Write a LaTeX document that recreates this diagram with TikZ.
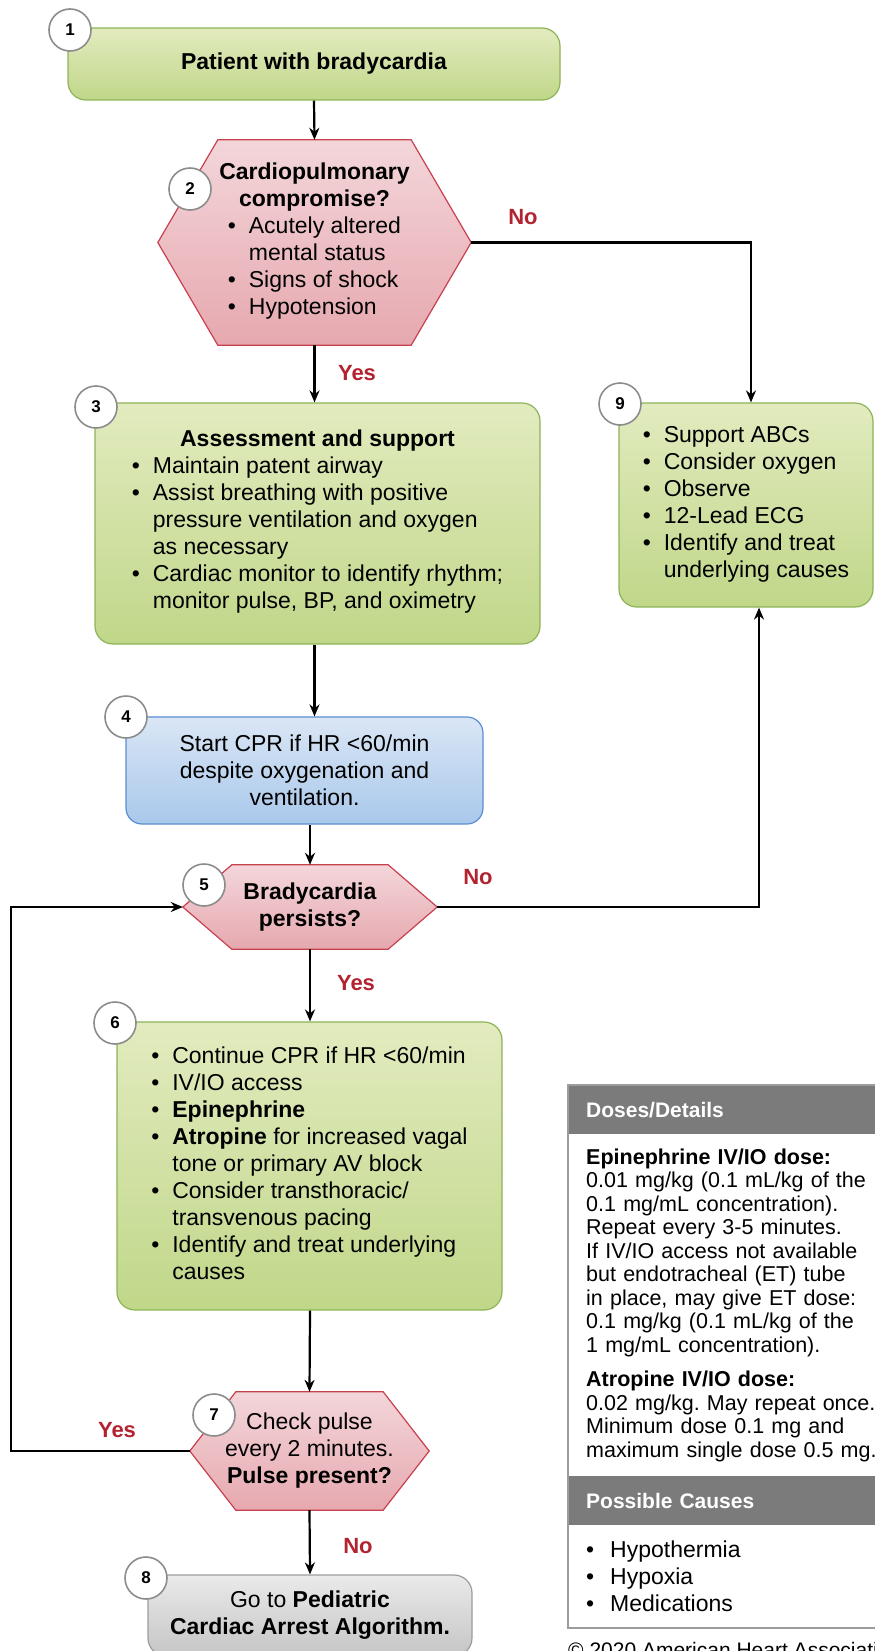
\documentclass[tikz,border=0pt]{standalone}
\usepackage{fontspec}
\setmainfont{Liberation Sans}
\usetikzlibrary{arrows.meta,backgrounds}
\frenchspacing

\definecolor{grtop}{HTML}{E2EBBF}
\definecolor{grbot}{HTML}{C0D789}
\definecolor{grline}{HTML}{8DB357}
\definecolor{rdtop}{HTML}{F3D6DA}
\definecolor{rdbot}{HTML}{E6A8AF}
\definecolor{rdline}{HTML}{C8404E}
\definecolor{bltop}{HTML}{DAE6F5}
\definecolor{blbot}{HTML}{A9C8EB}
\definecolor{blline}{HTML}{5A8ED0}
\definecolor{gytop}{HTML}{EAEAEA}
\definecolor{gybot}{HTML}{C5C5C5}
\definecolor{gyline}{HTML}{9C9C9C}
\definecolor{yesno}{HTML}{B3232F}
\definecolor{headgray}{HTML}{7B7B7B}
\definecolor{ringgray}{HTML}{8C8C8C}

\newcommand\bl{\makebox[21pt][l]{\textbullet}}
\newcommand\nb{\makebox[21pt]{}}
\newcommand\hexa[2]{\path[hexfill] (#1.west) -- ([xshift=#2]#1.north west) -- ([xshift=-#2]#1.north east) -- (#1.east) -- ([xshift=-#2]#1.south east) -- ([xshift=#2]#1.south west) -- cycle;}

\begin{document}
\begin{tikzpicture}[x=1pt, y=-1pt,
	txt/.style={align=center, inner sep=0pt, font=\fontsize{23}{27}\selectfont},
	actbox/.style={txt, rounded corners=18pt, line width=1.2pt, draw=grline, top color=grtop, bottom color=grbot},
	cprbox/.style={txt, rounded corners=16pt, line width=1.2pt, draw=blline, top color=bltop, bottom color=blbot},
	endbox/.style={txt, rounded corners=18pt, line width=1.2pt, draw=gyline, top color=gytop, bottom color=gybot},
	hextext/.style={txt},
	hexfill/.style={draw=rdline, line width=1.2pt, top color=rdtop, bottom color=rdbot},
	numc/.style={circle, draw=ringgray, line width=1.6pt, fill=white, minimum size=42pt, inner sep=0pt, font=\fontsize{17}{20}\bfseries},
	arr/.style={-{Stealth[length=12pt,width=10pt]}, line width=2.2pt},
	yn/.style={text=yesno, font=\fontsize{22}{26}\bfseries},
	sidehead/.style={anchor=north west, fill=headgray, text=white, minimum height=49pt, text width=300pt, inner xsep=18pt, inner ysep=0pt, align=left, font=\fontsize{21}{25}\bfseries},
	sidebody/.style={anchor=north west, text width=300pt, inner xsep=18pt, inner ysep=0pt, align=left}]
	\useasboundingbox (0,0) rectangle (875,1651);

	% main column
	\node[actbox, minimum width=492pt, minimum height=72pt] (b1) at (314,64) {\textbf{Patient with bradycardia}};
	\node[hextext, minimum width=313pt, minimum height=205pt] (q2) at (314.5,242.5) {\textbf{Cardiopulmonary}\\\textbf{compromise?}\\
		\begin{tabular}[t]{@{}l@{}}\bl Acutely altered\\ \nb mental status\\ \bl Signs of shock\\ \bl Hypotension\end{tabular}};
	\node[actbox, minimum width=445pt, minimum height=241pt] (b3) at (317.5,523.5) {\textbf{Assessment and support}\\
		\begin{tabular}[t]{@{}l@{}}\bl Maintain patent airway\\ \bl Assist breathing with positive\\ \nb pressure ventilation and oxygen\\ \nb as necessary\\ \bl Cardiac monitor to identify rhythm;\\ \nb monitor pulse, BP, and oximetry\end{tabular}};
	\node[cprbox, minimum width=357pt, minimum height=107pt] (b4) at (304.5,770.5) {Start CPR if HR <60/min\\despite oxygenation and\\ventilation.};
	\node[hextext, minimum width=254pt, minimum height=84pt] (q5) at (310,907) {\textbf{Bradycardia}\\\textbf{persists?}};
	\node[actbox, minimum width=385pt, minimum height=288pt] (b6) at (309.5,1166) {\begin{tabular}{@{}l@{}}\bl Continue CPR if HR <60/min\\ \bl IV/IO access\\ \bl \textbf{Epinephrine}\\ \bl \textbf{Atropine} for increased vagal\\ \nb tone or primary AV block\\ \bl Consider transthoracic/\\ \nb transvenous pacing\\ \bl Identify and treat underlying\\ \nb causes\end{tabular}};
	\node[hextext, minimum width=239pt, minimum height=118pt] (q7) at (309.5,1451) {Check pulse\\every 2 minutes.\\\textbf{Pulse present?}};
	\node[endbox, minimum width=324pt, minimum height=81pt] (b8) at (310,1615.5) {Go to \textbf{Pediatric}\\\textbf{Cardiac Arrest Algorithm.}};

	% right branch
	\node[actbox, minimum width=254pt, minimum height=204pt] (b9) at (746,505) {\begin{tabular}{@{}l@{}}\bl Support ABCs\\ \bl Consider oxygen\\ \bl Observe\\ \bl 12-Lead ECG\\ \bl Identify and treat\\ \nb underlying causes\end{tabular}};

	\begin{pgfonlayer}{background}
		\hexa{q2}{60pt}
		\hexa{q5}{49pt}
		\hexa{q7}{46pt}
	\end{pgfonlayer}

	% connectors
	\coordinate (loop) at (11,1451);
	\draw[arr] (b1.south) -- (q2.north);
	\draw[arr] (q2.south) -- (q2.south |- b3.north);
	\draw[arr] (q2.east) -| ([xshift=5pt]b9.north);
	\draw[arr] (q2.south |- b3.south) -- (q2.south |- b4.north);
	\draw[arr] (q5.north |- b4.south) -- (q5.north);
	\draw[arr] (q5.east) -| ([xshift=13pt]b9.south);
	\draw[arr] (q5.south) -- (q5.south |- b6.north);
	\draw[arr] (q5.south |- b6.south) -- (q7.north);
	\draw[arr] (q7.west) -- (loop) |- (q5.west);
	\draw[arr] (q7.south) -- (b8.north);

	\node[yn] (no2) at (523,217) {No};
	\node[yn] (yes2) at (357,373) {Yes};
	\node[yn] (no5) at (478,877) {No};
	\node[yn] (yes5) at (356,983) {Yes};
	\node[yn] (yes7) at (117,1430) {Yes};
	\node[yn] (no7) at (358,1546) {No};

	% step numbers
	\foreach \n/\x/\y in {1/70/30, 2/190/189, 3/96/407, 4/126/717, 5/204/885, 6/115/1023, 7/214/1415, 8/146/1578, 9/620/404}{
	\node[numc] (n\n) at (\x,\y) {\n};}

	% side panel
	\node[sidehead] (dh) at (568,1085) {Doses/Details};
	\node[sidebody, minimum height=341pt, font=\fontsize{21.5}{23.5}\selectfont] (db) at (dh.south west) {\textbf{Epinephrine IV/IO dose:}\\
		0.01 mg/kg (0.1 mL/kg of the\\
		0.1 mg/mL concentration).\\
		Repeat every 3-5 minutes.\\
		If IV/IO access not available\\
		but endotracheal (ET) tube\\
		in place, may give ET dose:\\
		0.1 mg/kg (0.1 mL/kg of the\\
		1 mg/mL concentration).\\[11pt]
		\textbf{Atropine IV/IO dose:}\\
		0.02 mg/kg. May repeat once.\\
		Minimum dose 0.1 mg and\\
		maximum single dose 0.5 mg.};
	\node[sidehead] (ch) at (db.south west) {Possible Causes};
	\node[sidebody, minimum height=102pt, font=\fontsize{23}{27}\selectfont] (cb) at (ch.south west) {\makebox[24pt][l]{\textbullet}Hypothermia\\ \makebox[24pt][l]{\textbullet}Hypoxia\\ \makebox[24pt][l]{\textbullet}Medications};
	\draw[gyline, line width=2pt] (dh.north west) rectangle (cb.south east);
	\node[anchor=base west, inner sep=0pt, font=\fontsize{21}{25}\selectfont] (copy) at (568,1657) {\copyright{} 2020 American Heart Association};
\end{tikzpicture}
\end{document}
